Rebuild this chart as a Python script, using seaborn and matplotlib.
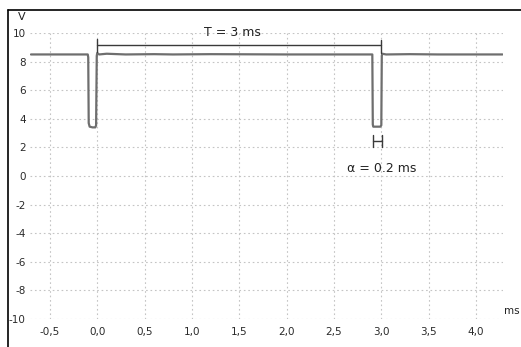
import pandas as pd
import matplotlib.pyplot as plt
import seaborn as sns
from matplotlib.lines import Line2D
from matplotlib.ticker import FuncFormatter

# Signal trace (ms, V)
time_ms = [-0.70, -0.100, -0.095, -0.090, -0.080, -0.050, -0.020, -0.012, -0.005,
           0.00, 0.02, 0.10, 0.30, 0.60, 0.80, 1.20, 2.00, 2.60, 2.905,
           2.910, 2.915, 2.990, 3.000, 3.005, 3.010, 3.05, 3.30, 3.60, 4.28]
volts = [8.50, 8.50, 8.30, 3.70, 3.45, 3.40, 3.40, 3.55, 8.40,
         8.60, 8.50, 8.55, 8.50, 8.52, 8.50, 8.52, 8.50, 8.50, 8.50,
         3.60, 3.45, 3.45, 3.55, 8.40, 8.55, 8.50, 8.52, 8.50, 8.50]

period_start, period_end = 0.0, 3.0
width_start, width_end = 2.91, 3.01
x_ticks = [-0.5, 0.0, 0.5, 1.0, 1.5, 2.0, 2.5, 3.0, 3.5, 4.0]
y_ticks = [-10, -8, -6, -4, -2, 0, 2, 4, 6, 8, 10]

df = pd.DataFrame({"t": time_ms, "v": volts})

sns.set_style("white")
plt.rcParams['font.family'] = ['DejaVu Sans']
plt.rcParams['axes.unicode_minus'] = False

fig = plt.figure(figsize=(5.21, 3.47), dpi=100)
ax = fig.add_axes([30 / 521, 28 / 347, 473 / 521, 286 / 347])

sns.lineplot(data=df, x="t", y="v", estimator=None, sort=False,
             color="#6e6e6e", linewidth=1.6, ax=ax)

ax.set_xlim(-0.71, 4.285)
ax.set_ylim(-10, 10)
ax.set_xticks(x_ticks)
ax.set_yticks(y_ticks)
ax.xaxis.set_major_formatter(FuncFormatter(lambda v, p: f"{v:.1f}".replace(".", ",")))
ax.tick_params(axis="both", length=0, labelsize=7.5, colors="#2a2a2a")
ax.tick_params(axis="x", pad=6)
ax.tick_params(axis="y", pad=3)
ax.grid(True, linestyle=(0, (1.5, 2.5)), color="#c4c4c4", linewidth=0.8)
for s in ax.spines.values():
    s.set_visible(False)
ax.set_xlabel("")
ax.set_ylabel("")

# period bracket
br = "#3a3a3a"
ax.plot([period_start, period_end], [9.16, 9.16], color=br, lw=1.0)
ax.plot([period_start, period_start], [8.65, 9.58], color=br, lw=1.0)
ax.plot([period_end, period_end], [8.6, 9.5], color=br, lw=1.0)
ax.text(1.43, 10.0, "T = 3 ms", ha="center", va="center", fontsize=9, color="#222222")

# width marker
ax.plot([width_start, width_start], [2.05, 2.87], color=br, lw=1.0)
ax.plot([width_end, width_end], [2.05, 2.87], color=br, lw=1.0)
ax.plot([width_start, width_end], [2.45, 2.45], color=br, lw=1.0)
ax.text(3.0, 0.49, "α = 0.2 ms", ha="center", va="center", fontsize=9, color="#222222")

# axis unit labels
fig.text(22 / 521, 1 - 17 / 347, "V", ha="center", va="center", fontsize=8, color="#222222")
fig.text(504 / 521, 1 - 311 / 347, "ms", ha="left", va="center", fontsize=7.5, color="#222222")

# window frame
fig.add_artist(Line2D([8 / 521, 1], [1 - 10 / 347, 1 - 10 / 347], color="black", lw=1.2,
                      transform=fig.transFigure))
fig.add_artist(Line2D([8 / 521, 8 / 521], [0, 1 - 10 / 347], color="black", lw=1.2,
                      transform=fig.transFigure))

fig.savefig("out.png", dpi=100)
